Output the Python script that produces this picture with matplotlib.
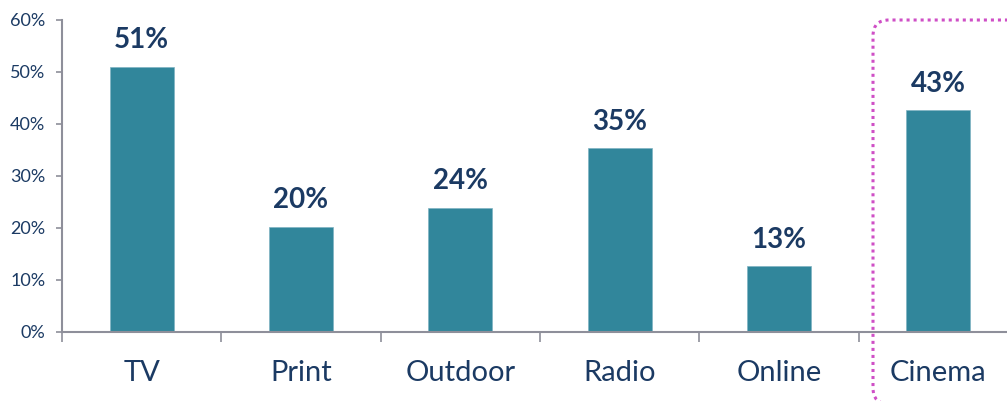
import matplotlib
matplotlib.use("Agg")
import matplotlib.pyplot as plt
from matplotlib.patches import FancyBboxPatch
from matplotlib.transforms import IdentityTransform

categories = ["TV", "Print", "Outdoor", "Radio", "Online", "Cinema"]
values = [51.0, 20.2, 23.8, 35.3, 12.6, 42.6]
labels = ["51%", "20%", "24%", "35%", "13%", "43%"]
yticks = [0, 10, 20, 30, 40, 50, 60]

W, H = 1007, 401
fig = plt.figure(figsize=(W / 100, H / 100), dpi=100)
left, right, bottom, top = 62, 1018, 332, 20
ax = fig.add_axes([left / W, (H - bottom) / H, (right - left) / W, (bottom - top) / H])

text_c = "#1B3A63"
grid_c = "#8E8F9A"
bar_c = "#31869B"
font = "Lato"

x = list(range(len(categories)))
ax.bar(x, values, width=0.4, color=bar_c, edgecolor="#7FB3C2", linewidth=0.5, zorder=2)
for xi, v, lab in zip(x, values, labels):
    ax.annotate(lab, (xi, v), xytext=(0, 10), textcoords="offset points",
                ha="center", va="bottom", fontsize=20, fontweight="bold",
                color=text_c, family=font)

ax.set_xlim(-0.5, 5.5)
ax.set_ylim(0, 60)
ax.set_yticks(yticks)
ax.set_yticklabels([f"{t}%" for t in yticks], fontsize=13, color=text_c, family=font)
ax.tick_params(axis="y", direction="out", length=4, color=grid_c, width=1.2, pad=8)

ax.set_xticks(x)
ax.set_xticklabels(categories, fontsize=21, color=text_c, family=font)
ax.tick_params(axis="x", which="major", length=0, pad=20)
ax.set_xticks([i - 0.5 for i in range(len(categories))], minor=True)
ax.tick_params(axis="x", which="minor", direction="out", length=7, color=grid_c, width=1.2)

for s in ["top", "right"]:
    ax.spines[s].set_visible(False)
for s in ["left", "bottom"]:
    ax.spines[s].set_color(grid_c)
    ax.spines[s].set_linewidth(1.5)

# highlight box around Cinema
box = FancyBboxPatch((873, -3), 200, 384, boxstyle="round,pad=0,rounding_size=16",
                     transform=IdentityTransform(), fill=False, edgecolor="#CF4FC6",
                     linewidth=2.2, linestyle=(0, (1, 1.3)), clip_on=False)
fig.patches.append(box)

fig.savefig("out.png", dpi=100)
